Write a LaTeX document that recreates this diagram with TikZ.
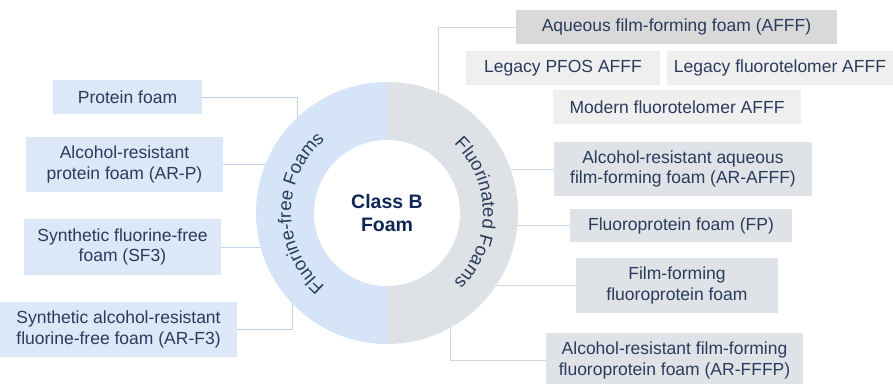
\documentclass[tikz,border=0pt]{standalone}
\usepackage{fontspec}
\setmainfont{Liberation Sans}
\usepackage{xcolor}
\usetikzlibrary{decorations.text}
\tikzset{every picture/.style={line width=0.75pt}}

\definecolor{navy}{HTML}{2B3B5C}
\definecolor{deepnavy}{HTML}{0F2658}
\definecolor{freefill}{HTML}{DCE7F7}
\definecolor{freering}{HTML}{D6E4F7}
\definecolor{freeline}{HTML}{BFD2EC}
\definecolor{fluofill}{HTML}{DFE3E8}
\definecolor{fluoring}{HTML}{DEE2E6}
\definecolor{fluoline}{HTML}{D2D8DF}
\definecolor{afffill}{HTML}{D9D9D9}
\definecolor{legacyfill}{HTML}{EFEFEF}

\newcommand{\itemfont}{\fontsize{17.5}{20.5}\selectfont}
\newcommand{\ringfont}{\fontsize{18.5}{20}\selectfont}

\begin{document}
\begin{tikzpicture}[x=1pt,y=1pt,
  freebox/.style={fill=freefill,text=navy,font=\itemfont,align=center,inner sep=0pt},
  fluobox/.style={fill=fluofill,text=navy,font=\itemfont,align=center,inner sep=0pt},
  afffbox/.style={fluobox,fill=afffill},
  legacybox/.style={fluobox,fill=legacyfill},
  freelink/.style={draw=freeline,line width=0.8pt},
  fluolink/.style={draw=fluoline,line width=0.8pt}]
\useasboundingbox (0,0) rectangle (893,383);
\node[circle,minimum size=262pt,inner sep=0pt,outer sep=0pt] (ring) at (387,170) {};
% fluorine-free side
\node[freebox,minimum width=149,minimum height=34] (pf) at (127.5,286) {Protein foam};
\node[freebox,minimum width=197,minimum height=55] (arp) at (124.5,218.5) {Alcohol-resistant\\protein foam (AR-P)};
\node[freebox,minimum width=197,minimum height=56] (sf3) at (122.5,136) {Synthetic fluorine-free\\foam (SF3)};
\node[freebox,minimum width=237,minimum height=55] (arf3) at (118.5,53.5) {Synthetic alcohol-resistant\\fluorine-free foam (AR-F3)};
% fluorinated side
\node[afffbox,minimum width=321,minimum height=34] (afff) at (676.5,356) {Aqueous film-forming foam (AFFF)};
\node[legacybox,minimum width=194,minimum height=34] (pfos) at (563,315) {Legacy PFOS AFFF};
\node[legacybox,minimum width=226,minimum height=34] (ftel) at (780,315) {Legacy fluorotelomer AFFF};
\node[legacybox,minimum width=248,minimum height=34] (modern) at (677,276) {Modern fluorotelomer AFFF};
\node[fluobox,minimum width=258,minimum height=54] (arafff) at (683,214) {Alcohol-resistant aqueous\\film-forming foam (AR-AFFF)};
\node[fluobox,minimum width=222,minimum height=33] (fp) at (681,157.5) {Fluoroprotein foam (FP)};
\node[fluobox,minimum width=202,minimum height=55] (fffp) at (677,97.5) {Film-forming\\fluoroprotein foam};
\node[fluobox,minimum width=257,minimum height=55] (arfffp) at (674.5,22.5) {Alcohol-resistant film-forming\\fluoroprotein foam (AR-FFFP)};
%
\draw[freelink] (pf.east) -| ([xshift=-90pt]ring.center);
\draw[freelink] (arp.east) -- (arp.east -| ring.center);
\draw[freelink] (sf3.east) -- (sf3.east -| ring.center);
\draw[freelink] (arf3.east) -| ([xshift=-95pt]ring.center);
\draw[fluolink] (afff.west) -| ([xshift=51pt]ring.center);
\draw[fluolink] (arafff.west) -- (arafff.west -| ring.center);
\draw[fluolink] (fp.west) -- (fp.west -| ring.center);
\draw[fluolink] (fffp.west) -- (fffp.west -| ring.center);
\draw[fluolink] (arfffp.west) -| ([xshift=63pt]ring.center);
% the ring
\fill[freering] (ring.north) arc[start angle=90,end angle=270,radius=131pt] -- cycle;
\fill[fluoring] (ring.north) arc[start angle=90,end angle=-90,radius=131pt] -- cycle;
\fill[white] (ring.center) circle[radius=73pt];
\path[decorate,decoration={text along path,text align=center,text color=navy,
  text={|\ringfont|Fluorine-free Foams}}]
  (ring.center) ++(235:96pt) arc[start angle=235,end angle=125,radius=96pt];
\path[decorate,decoration={text along path,text align=center,text color=navy,
  text={|\ringfont|Fluorinated Foams}}]
  (ring.center) ++(55:96pt) arc[start angle=55,end angle=-55,radius=96pt];
\node[text=deepnavy,font=\fontsize{19.5}{23}\selectfont\bfseries,align=center] (classb) at (ring.center) {Class B\\Foam};
\end{tikzpicture}
\end{document}
